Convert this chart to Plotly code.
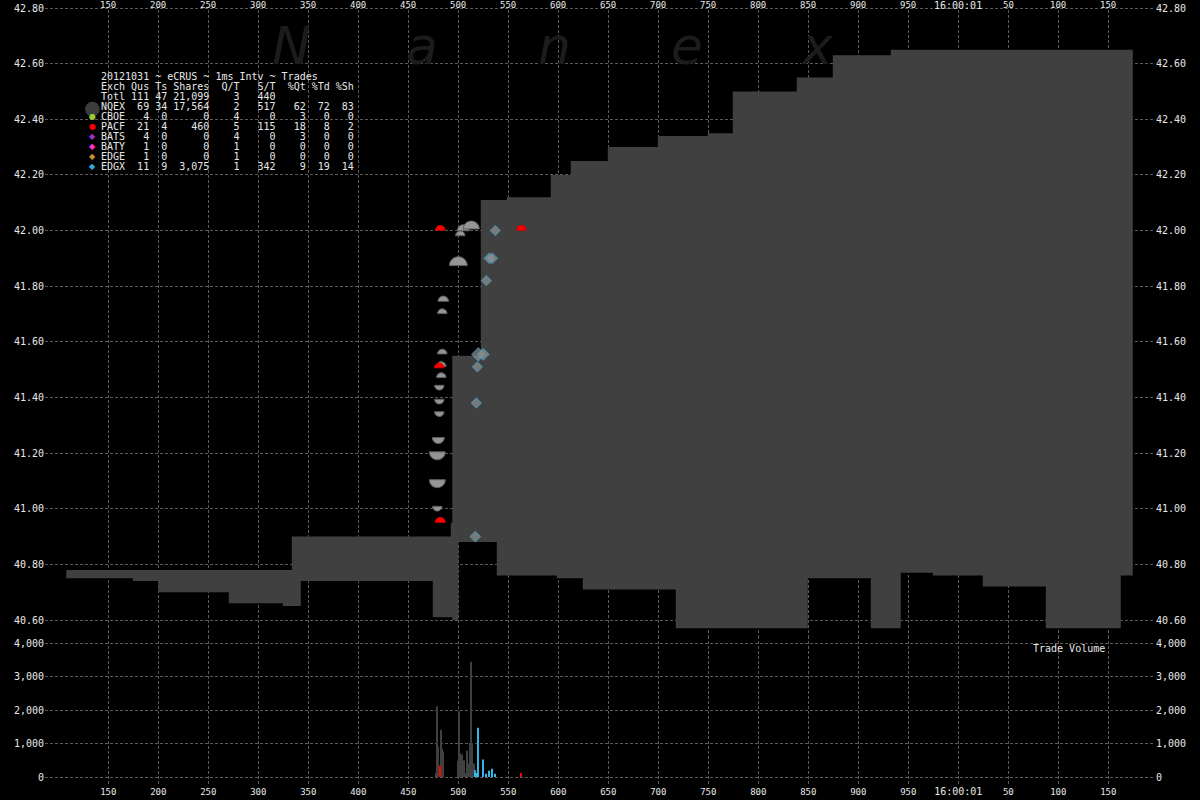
import plotly.graph_objects as go

W, H = 1200, 800

# ---------------- data ----------------
# NBBO-style grey band (ms after 16:00:00.000, bid / ask)
band_t = [108, 174.5, 200, 270.5, 324.5, 333.5, 342.5, 474.5, 492.5, 494, 500, 522.5,
          538.5, 548.5, 592.5, 598.5, 612.5, 624.5, 649.5, 699.5, 717.5, 749.5, 774.5,
          838.5, 849.5, 874.5, 912.5, 932.5, 942.5, 974.5, 1024.5, 1087.5, 1162.5, 1174.5]
band_bid = [40.75, 40.74, 40.70, 40.66, 40.65, 40.65, 40.74, 40.61, 40.61, 40.60, 40.88, 40.88,
            40.76, 40.76, 40.76, 40.75, 40.75, 40.71, 40.71, 40.71, 40.57, 40.57, 40.57,
            40.57, 40.75, 40.75, 40.57, 40.57, 40.77, 40.76, 40.72, 40.57, 40.76, 40.76]
band_ask = [40.78, 40.78, 40.78, 40.78, 40.78, 40.90, 40.90, 40.90, 40.95, 41.55, 41.55, 42.11,
            42.11, 42.12, 42.20, 42.20, 42.25, 42.25, 42.30, 42.34, 42.34, 42.35, 42.50,
            42.55, 42.55, 42.63, 42.63, 42.65, 42.65, 42.65, 42.65, 42.65, 42.65, 42.65]

# NQEX trades
nq_t = [479, 479, 479, 480, 481, 481, 481, 483, 483, 484, 484, 485, 500, 502, 505, 513]
nq_px = [41.00, 41.09, 41.19, 41.245, 41.34, 41.385, 41.435, 41.48, 41.52, 41.565, 41.71,
         41.755, 41.89, 41.99, 42.01, 42.02]
nq_sh = [100, 1300, 1300, 400, 100, 100, 100, 100, 100, 100, 100, 200, 1900, 100, 400, 1300]
nq_dir = ["dn", "dn", "dn", "dn", "dn", "dn", "dn", "up", "up", "up", "up", "up", "up",
          "up", "up", "up"]

# PACF trades
pa_t = [481, 482, 482, 563]
pa_px = [41.515, 40.96, 42.01, 42.01]
pa_sh = [100, 140, 100, 120]

# EDGX trades
ed_t = [517, 518, 519, 520, 525, 528, 531, 534, 537]
ed_px = [40.90, 41.38, 41.51, 41.555, 41.555, 41.82, 41.90, 41.90, 42.00]
ed_sh = [200, 120, 120, 1470, 520, 100, 190, 250, 100]

# per-ms trade volume
vol_t = [478, 479, 480, 483, 484, 485, 500, 501, 502, 503, 504, 505, 506, 507, 508, 509, 510,
         511, 512, 513, 514, 515, 516,
         482, 563,
         517, 518, 519, 520, 525, 528, 531, 534, 537]
vol_sh = [120, 2110, 915, 1410, 845, 755, 470, 1960, 700, 120, 670, 120, 500, 120, 120, 790, 400,
          120, 1015, 3440, 1015, 120, 400,
          340, 120,
          200, 120, 120, 1470, 520, 100, 190, 250, 100]
vol_ex = ["NQEX"] * 23 + ["PACF"] * 2 + ["EDGX"] * 9

# axis ticks
x_tick_vals = list(range(150, 1151, 50))
x_tick_text = ["150", "200", "250", "300", "350", "400", "450", "500", "550", "600", "650",
               "700", "750", "800", "850", "900", "950", "16:00:01", "50", "100", "150"]
price_ticks = [40.60, 40.80, 41.00, 41.20, 41.40, 41.60, 41.80, 42.00, 42.20, 42.40, 42.60, 42.80]
vol_ticks = [0, 1000, 2000, 3000, 4000]
vol_tick_text = ["0", "1,000", "2,000", "3,000", "4,000"]

# summary table
title_line = "20121031 ~ eCRUS ~ 1ms Intv ~ Trades"
tbl_exch = ["NQEX", "CBOE", "PACF", "BATS", "BATY", "EDGE", "EDGX"]
tbl_qus = [69, 4, 21, 4, 1, 1, 11]
tbl_ts = [34, 0, 4, 0, 0, 0, 9]
tbl_shares = [17564, 0, 460, 0, 0, 0, 3075]
tbl_qt = [2, 4, 5, 4, 1, 1, 1]
tbl_st = [517, 0, 115, 0, 0, 0, 342]
tbl_pqt = [62, 3, 18, 3, 0, 0, 9]
tbl_ptd = [72, 0, 8, 0, 0, 0, 19]
tbl_psh = [83, 0, 2, 0, 0, 0, 14]
tot_qus, tot_ts, tot_shares, tot_qt, tot_st = 111, 47, 21099, 3, 440

# ---------------- styles ----------------
MONO = "DejaVu Sans Mono"
TXT = "#e8e8e8"
GRID = "#5a5a5a"
BAND = "#404040"
EX_COL = {"NQEX": "#3c3c3c", "CBOE": "#99cc33", "PACF": "#ff0000", "BATS": "#9933cc",
          "BATY": "#ff33cc", "EDGE": "#cc8f29", "EDGX": "#33aadd"}
VOL_COL = {"NQEX": "#404040", "PACF": "#ff0000", "EDGX": "#33b5e5"}
EX_SYM = {"NQEX": "●", "CBOE": "●", "PACF": "●", "BATS": "◆", "BATY": "◆", "EDGE": "◆", "EDGX": "◆"}


def py(p):
    return 1 - p / H


PX_PER_PRICE = 0.003595
X_DOM = [45 / W, 1155 / W]
X_RANGE = [86.7, 1196.7]
P_DOM = [py(636), py(0)]
P_RANGE = [40.60 - 16 * PX_PER_PRICE, 42.80 + 8 * PX_PER_PRICE]
V_DOM = [py(785), py(636)]
V_RANGE = [-8 * 29.85, 4000 + 7 * 29.85]


def tick_label(txt):
    # the clock label is drawn a little larger than the millisecond labels
    return f'<span style="font-size:10px">{txt}</span>' if ":" in txt else txt


fig = go.Figure()

# grey band
fig.add_trace(go.Scatter(x=band_t, y=band_bid, mode="lines", line=dict(width=0, shape="hv"),
                         hoverinfo="skip", showlegend=False, xaxis="x", yaxis="y"))
fig.add_trace(go.Scatter(x=band_t, y=band_ask, mode="lines", line=dict(width=0, shape="hv"),
                         fill="tonexty", fillcolor=BAND, hoverinfo="skip", showlegend=False,
                         xaxis="x", yaxis="y"))

# EDGX diamonds
fig.add_trace(go.Scatter(x=ed_t, y=ed_px, mode="markers", showlegend=False, xaxis="x", yaxis="y",
                         marker=dict(symbol="diamond",
                                     size=[(9 + 0.12 * s ** 0.5) / 1.3 for s in ed_sh],
                                     color="#939393", line=dict(color="#40b8ec", width=1))))

# volume bars
fig.add_trace(go.Bar(x=vol_t, y=vol_sh, width=1, marker=dict(color=[VOL_COL[e] for e in vol_ex],
                                                             line=dict(width=0)),
                     showlegend=False, xaxis="x2", yaxis="y2"))

# empty traces for the right-hand axes
fig.add_trace(go.Scatter(x=[None], y=[None], xaxis="x", yaxis="y3", showlegend=False))
fig.add_trace(go.Scatter(x=[None], y=[None], xaxis="x2", yaxis="y4", showlegend=False))


def dome_path(w, up):
    r = w / 2
    k = 0.5523 * r
    s = 1 if up else -1
    b = -s * r / 2
    t = b + s * r
    return (f"M {-r:.2f},{b:.2f} C {-r:.2f},{b + s * k:.2f} {-k:.2f},{t:.2f} 0,{t:.2f} "
            f"C {k:.2f},{t:.2f} {r:.2f},{b + s * k:.2f} {r:.2f},{b:.2f} Z")


# black strip above the 42.80 grid line so the vertical grid does not run through the top labels
shapes = [dict(type="rect", xref="x", yref="y", x0=X_RANGE[0], x1=X_RANGE[1],
               y0=42.80 + 1.5 * PX_PER_PRICE, y1=P_RANGE[1],
               fillcolor="black", line=dict(width=0), layer="between")]
for t, p, s, d in zip(nq_t, nq_px, nq_sh, nq_dir):
    shapes.append(dict(type="path", xref="x", yref="y", xsizemode="pixel", ysizemode="pixel",
                       xanchor=t, yanchor=p, path=dome_path(7 + 0.25 * s ** 0.5, d == "up"),
                       fillcolor="#959595", line=dict(color="#5e5e5e", width=1), layer="above"))
for t, p, s in zip(pa_t, pa_px, pa_sh):
    shapes.append(dict(type="path", xref="x", yref="y", xsizemode="pixel", ysizemode="pixel",
                       xanchor=t, yanchor=p, path=dome_path(7 + 0.25 * s ** 0.5, True),
                       fillcolor="#ff0000", line=dict(color="#cc0000", width=1), layer="above"))

# ---------------- text ----------------
ann = []
wm_x = [291, 422, 554, 687, 817]
for ch, xp in zip("Nanex", wm_x):
    ann.append(dict(text=ch, xref="paper", yref="paper", x=xp / W, y=py(46), xanchor="center",
                    yanchor="middle", showarrow=False,
                    font=dict(family="DejaVu Sans", size=52, color="#1c1c1c", style="italic")))

# top time labels (along the top edge of the price panel)
for v, t in zip(x_tick_vals, x_tick_text):
    ann.append(dict(text=t, xref="x", yref="paper", x=v, y=py(5.5), xanchor="center",
                    yanchor="middle", showarrow=False,
                    font=dict(family=MONO, size=10 if ":" in t else 9, color=TXT)))


def row(a, b, c, d, e, f, g="", h="", i=""):
    return f"{a:<4} {b:>3} {c:>2} {d:>6} {e:>4} {f:>5} {g:>4} {h:>3} {i:>3}".rstrip()


lines = [title_line,
         row("Exch", "Qus", "Ts", "Shares", "Q/T", "S/T", "%Qt", "%Td", "%Sh"),
         row("Totl", tot_qus, tot_ts, f"{tot_shares:,}", tot_qt, tot_st)]
for k in range(len(tbl_exch)):
    lines.append(row(tbl_exch[k], tbl_qus[k], tbl_ts[k], f"{tbl_shares[k]:,}", tbl_qt[k],
                     tbl_st[k], tbl_pqt[k], tbl_ptd[k], tbl_psh[k]))
for k, ln in enumerate(lines):
    ann.append(dict(text=ln.replace(" ", "\u00a0"), xref="paper", yref="paper", x=99 / W,
                    y=py(77 + k * 9.9), xanchor="left", yanchor="middle", showarrow=False,
                    font=dict(family=MONO, size=10, color=TXT)))
for k, ex in enumerate(tbl_exch):
    big = ex == "NQEX"
    ann.append(dict(text=EX_SYM[ex], xref="paper", yref="paper", x=92 / W,
                    y=py(77 + (k + 3) * 9.9), xanchor="center", yanchor="middle", showarrow=False,
                    font=dict(family="DejaVu Sans", size=19 if big else 8, color=EX_COL[ex])))

ann.append(dict(text="Trade\u00a0Volume", xref="paper", yref="paper", x=1031 / W, y=py(648),
                xanchor="left", yanchor="middle", showarrow=False,
                font=dict(family=MONO, size=10, color=TXT)))

tickfont = dict(family=MONO, size=10, color=TXT)
xcommon = dict(domain=X_DOM, range=X_RANGE, tickmode="array", tickvals=x_tick_vals,
               showgrid=True, gridcolor=GRID, griddash="3px,2px",
               gridwidth=1, zeroline=False, showline=False, ticks="",
               tickfont=dict(family=MONO, size=9, color=TXT))
pcommon = dict(domain=P_DOM, range=P_RANGE, tickmode="array", tickvals=price_ticks,
               ticktext=[f"{v:.2f}" for v in price_ticks], zeroline=False, showline=False,
               ticks="", tickfont=tickfont)
vcommon = dict(domain=V_DOM, range=V_RANGE, tickmode="array", tickvals=vol_ticks,
               ticktext=vol_tick_text, zeroline=False, showline=False, ticks="",
               tickfont=tickfont)

fig.update_layout(
    width=W, height=H, margin=dict(l=0, r=0, t=0, b=0),
    paper_bgcolor="black", plot_bgcolor="black", showlegend=False, hovermode=False,
    xaxis=dict(**xcommon, side="top", anchor="y", showticklabels=False),
    xaxis2=dict(**xcommon, side="bottom", anchor="y2",
                ticktext=[tick_label(t) for t in x_tick_text]),
    yaxis=dict(**pcommon, side="left", anchor="x", showgrid=True, gridcolor=GRID,
               griddash="3px,2px", gridwidth=1),
    yaxis3=dict(**pcommon, side="right", anchor="x", overlaying="y", showgrid=False),
    yaxis2=dict(**vcommon, side="left", anchor="x2", showgrid=True, gridcolor=GRID,
                griddash="3px,2px", gridwidth=1),
    yaxis4=dict(**vcommon, side="right", anchor="x2", overlaying="y2", showgrid=False),
    shapes=shapes, annotations=ann,
)

fig.write_html("out.html")
